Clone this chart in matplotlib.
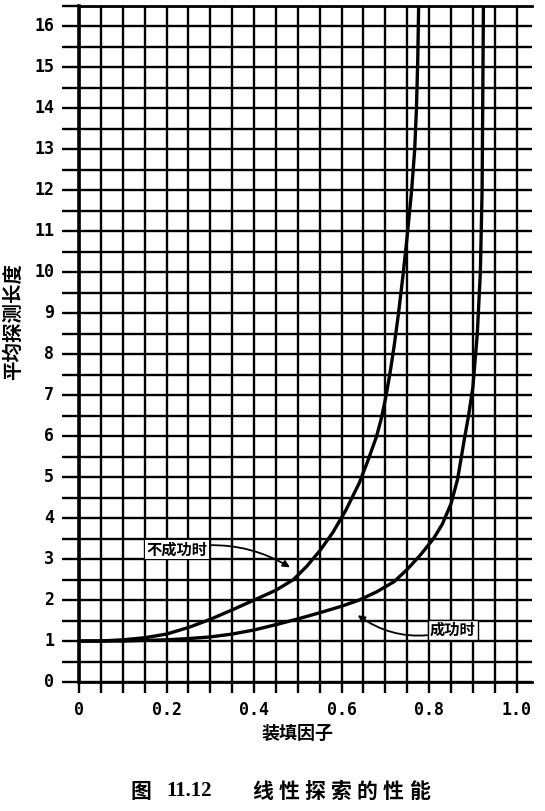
import numpy as np
import matplotlib
matplotlib.use("Agg")
import matplotlib.pyplot as plt

plt.rcParams['font.family'] = ['Noto Sans CJK SC', 'DejaVu Sans']

# ---- data ----
unsucc_x = [0.0, 0.05, 0.1, 0.15, 0.2, 0.25, 0.3, 0.35, 0.4, 0.45, 0.49, 0.52, 0.55, 0.58,
            0.61, 0.64, 0.66, 0.68, 0.69, 0.70, 0.71, 0.72, 0.73, 0.74, 0.75, 0.76, 0.767,
            0.771, 0.774, 0.776]
unsucc_y = [1.0, 1.0, 1.03, 1.08, 1.17, 1.33, 1.53, 1.76, 2.0, 2.24, 2.5, 2.82, 3.2, 3.65,
            4.2, 4.85, 5.4, 6.0, 6.4, 6.9, 7.5, 8.2, 9.0, 9.9, 10.9, 12.0, 13.0,
            14.0, 15.2, 16.5]
succ_x = [0.0, 0.1, 0.2, 0.25, 0.3, 0.35, 0.4, 0.45, 0.5, 0.55, 0.6, 0.64, 0.68, 0.72,
          0.75, 0.78, 0.81, 0.83, 0.85, 0.865, 0.88, 0.89, 0.9, 0.91, 0.917, 0.921, 0.924]
succ_y = [1.0, 1.0, 1.03, 1.06, 1.1, 1.17, 1.27, 1.4, 1.54, 1.69, 1.85, 2.0, 2.2, 2.45,
          2.75, 3.1, 3.5, 3.85, 4.35, 4.95, 5.9, 6.5, 7.2, 8.5, 10.0, 12.0, 16.5]

x_ticks = [0.0, 0.2, 0.4, 0.6, 0.8, 1.0]
x_tick_labels = ["0", "0.2", "0.4", "0.6", "0.8", "1.0"]
y_ticks = list(range(0, 17))
y_tick_labels = [str(v) for v in y_ticks]

label_unsucc = "不成功时"
label_succ = "成功时"
x_label = "装填因子"
y_label = "平均探测长度"
caption_fig = "图"
caption_num = "11.12"
caption_title = "线性探索的性能"

W, H = 545, 811
fig = plt.figure(figsize=(W / 100, H / 100), dpi=100)
ax = fig.add_axes([79 / W, 1 - 682 / H, (532 - 79) / W, (682 - 6) / H])

ax.set_xlim(0, 1.035)
ax.set_ylim(0, 16.5)

# grid: every 0.05 in x, every 0.5 in y
gx = np.arange(0, 1.0001, 0.05)
gy = np.arange(0, 16.5001, 0.5)
ax.set_xticks(gx)
ax.set_xticklabels([""] * len(gx))
ax.set_yticks(gy)
ax.set_yticklabels([""] * len(gy))
ax.tick_params(axis='x', direction='out', length=8, width=1.7, color='black')
ax.tick_params(axis='y', direction='out', length=12, width=1.7, color='black')
ax.grid(True, color='black', linewidth=1.7)
ax.set_axisbelow(True)

ax.spines['right'].set_visible(False)
for s in ['left', 'bottom', 'top']:
    ax.spines[s].set_linewidth(2.0)
ax.spines['left'].set_linewidth(2.6)

mono = dict(family='DejaVu Sans Mono', weight='bold', fontsize=12)
for xv, lab in zip(x_ticks, x_tick_labels):
    ax.annotate(lab, xy=(xv, 0), xycoords='data', xytext=(0, -14), textcoords='offset points',
                ha='center', va='top', **mono)
for yv, lab in zip(y_ticks, y_tick_labels):
    ax.annotate(lab, xy=(0, yv), xycoords='data', xytext=(-18, 0), textcoords='offset points',
                ha='right', va='center', **mono)

ax.plot(unsucc_x, unsucc_y, color='black', lw=2.4, solid_joinstyle='round', zorder=3)
ax.plot(succ_x, succ_y, color='black', lw=2.4, solid_joinstyle='round', zorder=3)

cjk = ['Noto Sans CJK SC', 'DejaVu Sans']
ax.annotate(label_unsucc, xy=(0.482, 2.80), xytext=(0.224, 3.24), fontsize=11,
            family=cjk, weight='bold', ha='center', va='center',
            bbox=dict(boxstyle='square,pad=0.1', fc='white', ec='none'),
            arrowprops=dict(arrowstyle='-|>', color='black', lw=1.3,
                            connectionstyle='arc3,rad=-0.2', shrinkA=0, shrinkB=0,
                            mutation_scale=10), zorder=4)
ax.annotate(label_succ, xy=(0.637, 1.63), xytext=(0.854, 1.27), fontsize=11,
            family=cjk, weight='bold', ha='center', va='center',
            bbox=dict(boxstyle='square,pad=0.15', fc='white', ec='black', lw=1.0),
            arrowprops=dict(arrowstyle='-|>', color='black', lw=1.3,
                            connectionstyle='arc3,rad=-0.25', shrinkA=0, shrinkB=0,
                            mutation_scale=10), zorder=4)

fig.text(13 / W, 1 - 322 / H, y_label, rotation=90, ha='center', va='center',
         fontsize=14, weight='bold', family=cjk)
fig.text(298 / W, 1 - 733 / H, x_label, ha='center', va='center',
         fontsize=13, weight='bold', family=cjk)

cy = 1 - 791 / H
fig.text(141 / W, cy, caption_fig, ha='center', va='center', fontsize=15, weight='bold', family=cjk)
fig.text(189 / W, cy, caption_num, ha='center', va='center', fontsize=15, weight='bold',
         family=['Liberation Serif', 'DejaVu Serif'])
for i, ch in enumerate(caption_title):
    fig.text((263 + 26 * i) / W, cy, ch, ha='center', va='center', fontsize=15,
             weight='bold', family=cjk)

fig.savefig("out.png", dpi=100)
